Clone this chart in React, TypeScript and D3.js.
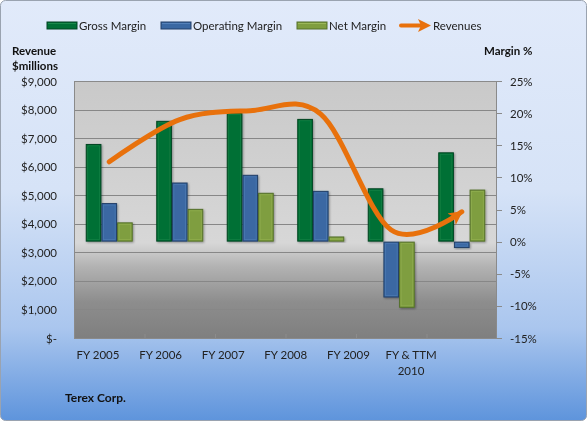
import React from "react";
import * as d3 from "d3";

const categories = ["FY 2005", "FY 2006", "FY 2007", "FY 2008", "FY 2009", "FY & TTM 2010"];
const categoryLines = [["FY 2005"], ["FY 2006"], ["FY 2007"], ["FY 2008"], ["FY 2009"], ["FY & TTM", "2010"]];
const grossMargin = [15.2, 18.8, 20.1, 19.1, 8.3, 13.9];
const operatingMargin = [6.0, 9.2, 10.4, 7.9, -8.7, -1.0];
const netMargin = [3.0, 5.1, 7.6, 0.8, -10.3, 8.1];
const revenues = [6170, 7650, 7960, 7840, 3780, 4420];
const revenueTicks = [0, 1000, 2000, 3000, 4000, 5000, 6000, 7000, 8000, 9000];
const marginTicks = [-15, -10, -5, 0, 5, 10, 15, 20, 25];
const seriesNames = ["Gross Margin", "Operating Margin", "Net Margin"];

const W = 588;
const H = 422;
const PL = 74;
const PR = 497;
const PT = 81;
const PB = 338;
const FONT = "Lato, 'Open Sans', sans-serif";
const FS = 11.5;

const seriesStyle = [
  { fill: "#006f35", stroke: "#004522", hi: "#1a8a4c" },
  { fill: "#3a68a3", stroke: "#213f68", hi: "#5582bb" },
  { fill: "#7f9e3f", stroke: "#54702a", hi: "#9bb85a" },
];
const ORANGE = "#e8710c";

export default function App() {
  const x0 = d3.scaleBand<string>().domain(categories).range([PL, PR]).padding(0);
  const bw = x0.bandwidth();
  const groupW = bw / 1.5;
  const x1 = d3.scaleBand<string>().domain(seriesNames).range([0, groupW]).padding(0);
  const xLabel = d3.scalePoint<string>().domain(categories).range([98, 411]);
  const yRev = d3.scaleLinear().domain([0, 9000]).range([PB, PT]);
  const yMar = d3.scaleLinear().domain([-15, 25]).range([PB, PT]);
  const fmtRev = (v: number) => (v === 0 ? "$-" : "$" + d3.format(",")(v));

  const series = [grossMargin, operatingMargin, netMargin];

  const line = d3
    .line<number>()
    .x((_, i) => (x0(categories[i]) as number) + bw / 2)
    .y((d) => yRev(d))
    .curve(d3.curveCardinal.tension(0));
  const revPath = line(revenues) || "";

  const legendItems = [
    { x: 47, tx: 79, name: "Gross Margin", s: 0 },
    { x: 161, tx: 193, name: "Operating Margin", s: 1 },
    { x: 297, tx: 329, name: "Net Margin", s: 2 },
  ];

  return (
    <svg
      width={W}
      height={H}
      style={{ position: "fixed", left: 0, top: 0 }}
      fontFamily={FONT}
    >
      <defs>
        <linearGradient id="bg" x1="0" y1="0" x2="0" y2="1">
          <stop offset="0" stopColor="#e1eafa" />
          <stop offset="0.45" stopColor="#d6e3f7" />
          <stop offset="0.78" stopColor="#aac6ee" />
          <stop offset="1" stopColor="#5e94dc" />
        </linearGradient>
        <linearGradient id="plotbg" x1="0" y1="0" x2="0" y2="1">
          <stop offset="0" stopColor="#c9c9c9" />
          <stop offset="0.63" stopColor="#d7d7d7" />
          <stop offset="0.72" stopColor="#b3b3b3" />
          <stop offset="0.86" stopColor="#8d8d8d" />
          <stop offset="1" stopColor="#7f7f7f" />
        </linearGradient>
        <marker
          id="arrow"
          viewBox="0 0 10 10"
          refX="9"
          refY="5"
          markerUnits="userSpaceOnUse"
          markerWidth="16"
          markerHeight="14"
          orient="auto"
        >
          <path d="M0,0 L10,5 L0,10 L2.5,5 Z" fill={ORANGE} />
        </marker>
        <filter id="shadow" x="-20%" y="-20%" width="150%" height="150%">
          <feDropShadow dx="1" dy="1" stdDeviation="0.8" floodColor="#000" floodOpacity="0.35" />
        </filter>
      </defs>

      <rect x={0.5} y={0.5} width={W - 2} height={H - 2} rx={5} fill="url(#bg)" stroke="#9aa3b0" />

      {/* legend */}
      {legendItems.map((l) => (
        <g key={l.name}>
          <rect
            x={l.x}
            y={22}
            width={30}
            height={7}
            fill={seriesStyle[l.s].fill}
            stroke={seriesStyle[l.s].stroke}
            strokeWidth={1}
          />
          <line x1={l.x + 1} x2={l.x + 29} y1={23.5} y2={23.5} stroke={seriesStyle[l.s].hi} strokeWidth={1} />
          <text x={l.tx} y={29.5} fontSize={FS} fill="#222">
            {l.name}
          </text>
        </g>
      ))}
      <line x1={401} x2={420} y1={25.5} y2={25.5} stroke={ORANGE} strokeWidth={4} strokeLinecap="round" />
      <path d="M418,19 L431,25.5 L418,32 L421,25.5 Z" fill={ORANGE} />
      <text x={433} y={29.5} fontSize={FS} fill="#222">
        Revenues
      </text>

      {/* axis titles */}
      <text x={12} y={55} fontSize={FS} fontWeight="bold" fill="#111">
        Revenue
      </text>
      <text x={12} y={70} fontSize={FS} fontWeight="bold" fill="#111">
        $millions
      </text>
      <text x={484} y={55} fontSize={FS} fontWeight="bold" fill="#111">
        Margin %
      </text>
      <text x={65} y={402} fontSize={12} fontWeight="bold" fill="#111">
        Terex Corp.
      </text>

      {/* plot area */}
      <rect x={PL} y={PT} width={PR - PL} height={PB - PT} fill="url(#plotbg)" />
      {revenueTicks.map((t) => (
        <line key={t} x1={PL} x2={PR} y1={Math.round(yRev(t)) + 0.5} y2={Math.round(yRev(t)) + 0.5} stroke="#878787" strokeWidth={1} />
      ))}
      <rect x={PL + 0.5} y={PT + 0.5} width={PR - PL - 1} height={PB - PT} fill="none" stroke="#8a8a8a" />

      {/* category tick marks */}
      {categories.slice(1).map((c) => (
        <line key={c} x1={(x0(c) as number) + 0.5} x2={(x0(c) as number) + 0.5} y1={PB - 4} y2={PB} stroke="#8c8c8c" />
      ))}

      {/* left axis */}
      {revenueTicks.map((t) => (
        <text key={t} x={57} y={yRev(t) + 4.5} fontSize={FS} textAnchor="end" fill="#222">
          {fmtRev(t)}
        </text>
      ))}

      {/* right axis */}
      {marginTicks.map((t) => (
        <g key={t}>
          <line x1={PR} x2={PR + 5} y1={Math.round(yMar(t)) + 0.5} y2={Math.round(yMar(t)) + 0.5} stroke="#8a8a8a" />
          <text x={510} y={yMar(t) + 4.5} fontSize={FS} fill="#222">
            {t + "%"}
          </text>
        </g>
      ))}

      {/* category labels */}
      {categories.map((c, i) => (
        <text key={c} x={xLabel(c)} y={359} fontSize={FS} textAnchor="middle" fill="#222">
          {categoryLines[i].map((ln, j) => (
            <tspan key={j} x={xLabel(c)} dy={j === 0 ? 0 : 16}>
              {ln}
            </tspan>
          ))}
        </text>
      ))}

      {/* bars */}
      {series.map((vals, s) =>
        vals.map((v, i) => {
          const x = (x0(categories[i]) as number) + (bw - groupW) / 2 + (x1(seriesNames[s]) as number);
          const w = x1.bandwidth();
          const y = Math.min(yMar(v), yMar(0));
          const h = Math.max(Math.abs(yMar(v) - yMar(0)), 2);
          const st = seriesStyle[s];
          return (
            <g key={s + "-" + i} filter="url(#shadow)">
              <rect x={x + 0.5} y={y + 0.5} width={w - 1} height={h - 1} fill={st.fill} stroke={st.stroke} strokeWidth={1} />
              <rect x={x + 2} y={y + 2} width={Math.max(w - 4, 0)} height={Math.max(h - 4, 0)} fill="none" stroke={st.hi} strokeWidth={0.8} opacity={0.6} />
            </g>
          );
        })
      )}

      {/* revenue line */}
      <path d={revPath} fill="none" stroke={ORANGE} strokeWidth={5} strokeLinecap="round" markerEnd="url(#arrow)" />
    </svg>
  );
}
